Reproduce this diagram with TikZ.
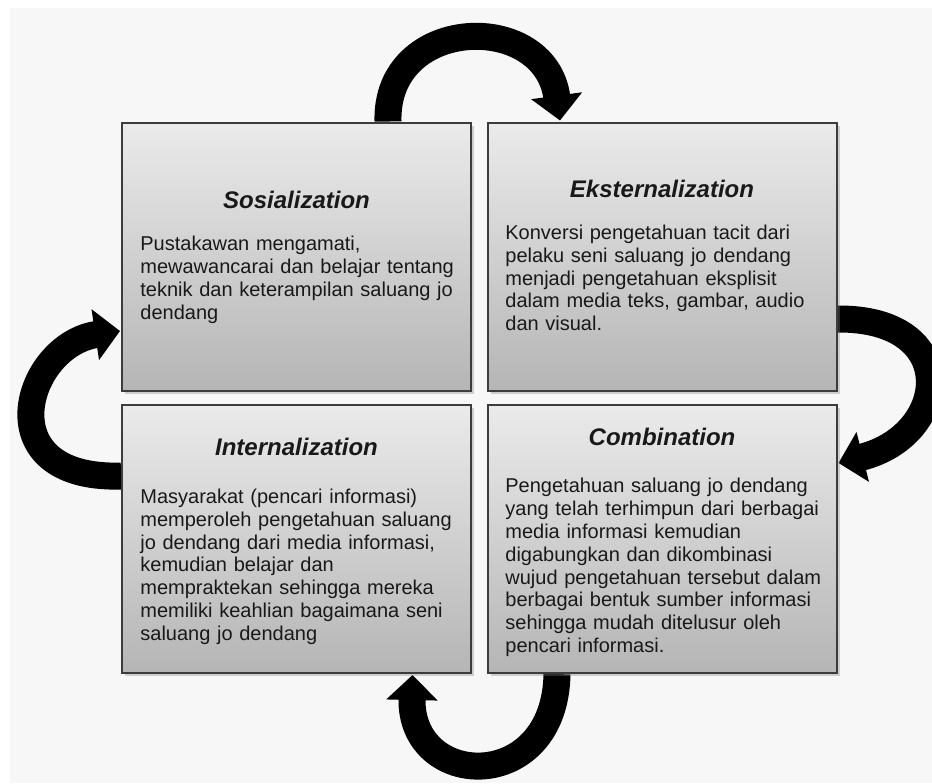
\documentclass[tikz,border=0pt]{standalone}
\usepackage{fontspec}
\setmainfont{Liberation Sans}
\definecolor{paper}{RGB}{247, 247, 247}
\definecolor{frame}{RGB}{60, 60, 60}
\definecolor{ink}{RGB}{25, 25, 25}
\usetikzlibrary{arrows.meta, calc, shadows, backgrounds}

\begin{document}
\begin{tikzpicture}[x=0.5pt, y=-0.5pt,
    phase/.style={draw=frame, line width=1pt, minimum width=174.5pt, minimum height=134pt,
      top color=black!8, bottom color=black!29,
      drop shadow={shadow xshift=1.5pt, shadow yshift=-1.5pt, opacity=.35}},
    phasetitle/.style={font=\bfseries\itshape\fontsize{12}{14}\selectfont, text=ink, inner sep=0pt},
    phasetext/.style={font=\fontsize{10}{11.4}\selectfont, text=ink, align=left,
      anchor=north west, inner sep=0pt, text width=170pt},
    cycle/.style={line width=13.5pt, -{Triangle[width=25pt, length=12.5pt]}}]
  \useasboundingbox (0,0) rectangle (932,783);

  \node[phase] (soc) at (296.5,256.5) {};
  \node[phase] (ext) at (662,256.5) {};
  \node[phase] (int) at (296.5,539) {};
  \node[phase] (com) at (662,539) {};

  \node[phasetitle] (soc-title) at (296.5,200) {Sosialization};
  \node[phasetitle] (ext-title) at (662,189) {Eksternalization};
  \node[phasetitle] (int-title) at (296.5,447) {Internalization};
  \node[phasetitle] (com-title) at (662,437) {Combination};

  \node[phasetext] (soc-text) at (140,236) {Pustakawan mengamati,\\
    mewawancarai dan belajar tentang\\ teknik dan keterampilan saluang jo\\ dendang};
  \node[phasetext] (ext-text) at (505,224.5) {Konversi pengetahuan tacit dari\\
    pelaku seni saluang jo dendang\\ menjadi pengetahuan eksplisit\\
    dalam media teks, gambar, audio\\ dan visual.};
  \node[phasetext] (int-text) at (140,488.5) {Masyarakat (pencari informasi)\\
    memperoleh pengetahuan saluang\\ jo dendang dari media informasi,\\
    kemudian belajar dan\\ mempraktekan sehingga mereka\\
    memiliki keahlian bagaimana seni\\ saluang jo dendang};
  \node[phasetext] (com-text) at (505,478) {Pengetahuan saluang jo dendang\\
    yang telah terhimpun dari berbagai\\ media informasi kemudian\\
    digabungkan dan dikombinasi\\ wujud pengetahuan tersebut dalam\\
    berbagai bentuk sumber informasi\\ sehingga mudah ditelusur oleh\\ pencari informasi.};

  \begin{scope}[on background layer]
    \fill[white] (0,0) rectangle (932,783);
    \fill[paper] (10,8) rectangle (932,783);
    \draw[cycle] ($(soc.north)+(91.5,0)$) .. controls (385,15) and (545,10) .. ($(ext.north)+(-102,-1)$);
    \draw[cycle] ($(ext.east)+(0,62.5)$) .. controls (962,318) and (950,435) .. ($(com.east)+(1,-76)$);
    \draw[cycle] ($(com.south)+(-105,0)$) .. controls (555,795) and (410,790) .. ($(int.south)+(116,1)$);
    \draw[cycle] ($(int.west)+(0,-63)$) .. controls (-15,480) and (25,345) .. ($(soc.west)+(-1,74.5)$);
  \end{scope}
\end{tikzpicture}
\end{document}
